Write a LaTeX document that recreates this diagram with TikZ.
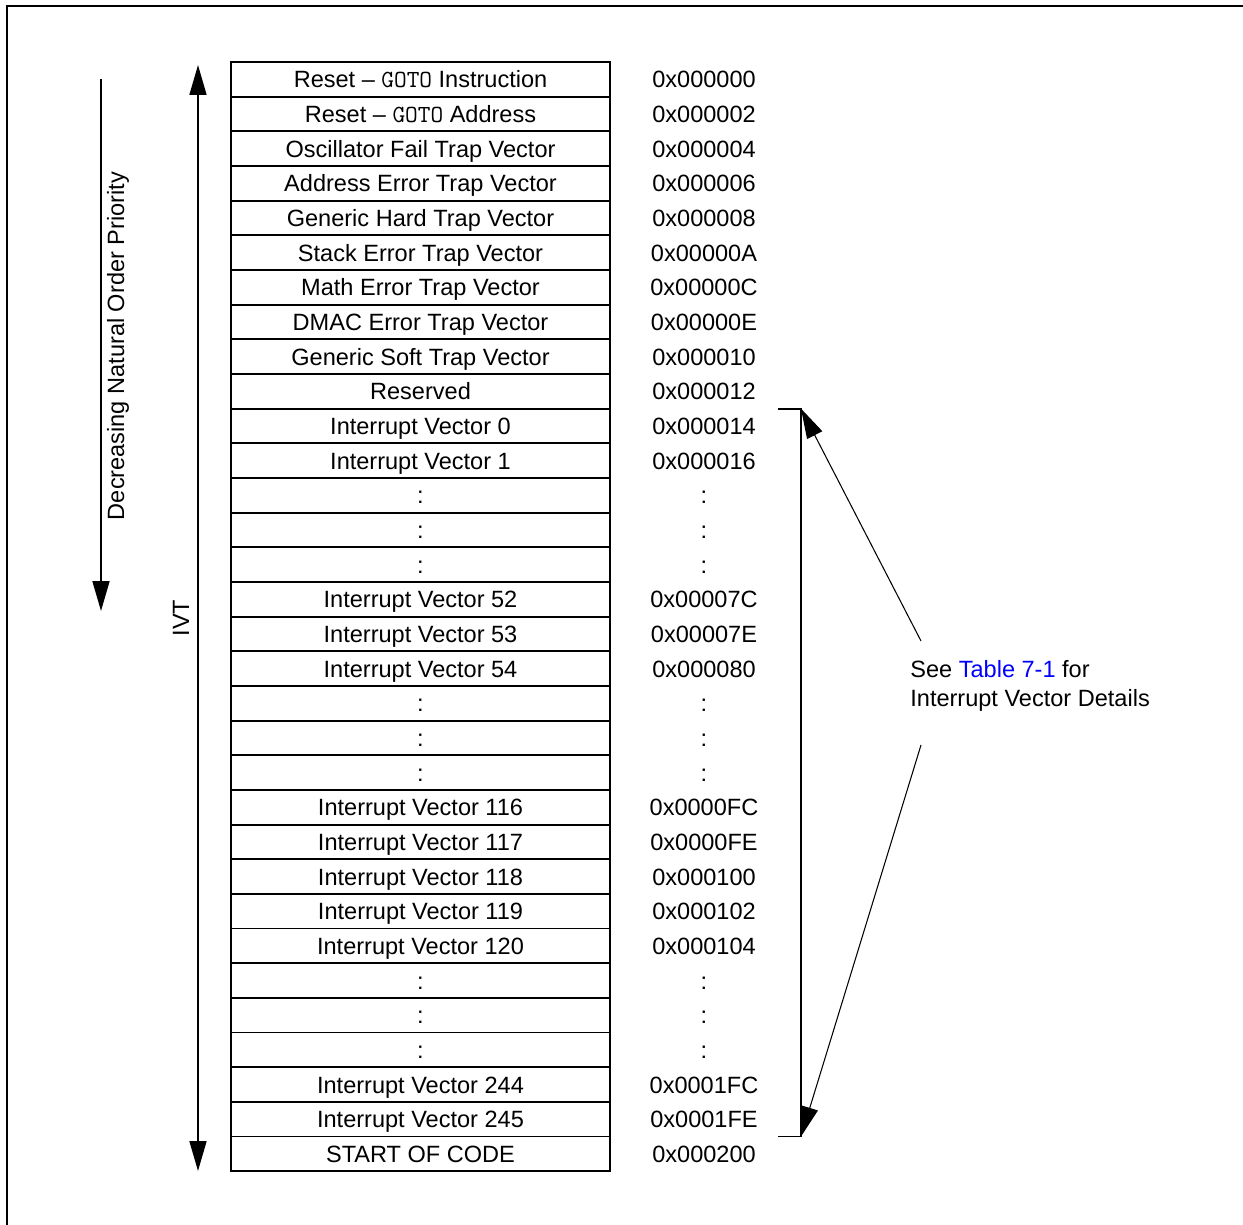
\documentclass[tikz,border=0pt]{standalone}
\usepackage{fontspec}
\setmainfont{Liberation Sans}
\usetikzlibrary{arrows.meta}
\newcommand{\gototxt}{{\ttfamily\fontsize{14}{14}\selectfont GOTO}}
\begin{document}
\begin{tikzpicture}[x=0.02cm, y=-0.02cm,
		every node/.style={font=\fontsize{13.4}{16.5}\selectfont, inner sep=0pt},
		cell/.style={draw, line width=1.1pt, minimum width=7.58cm, minimum height=0.693cm, text height=9.7pt, text depth=0pt},
		addr/.style={anchor=center, text height=9.7pt, text depth=0pt},
		bigtip/.style={-{Triangle[length=17pt, width=9.6pt]}},
		thick line/.style={line width=1.1pt}]
		\useasboundingbox (0, 0) rectangle (1243, 1224);
		\draw[thick line]	(7, 1300) |- (1300, 6);

		% memory map rows
		\foreach \lbl/\adr [count=\i from 0] in {
				Reset -- \gototxt{} Instruction/0x000000,
				Reset -- \gototxt{} Address/0x000002,
				Oscillator Fail Trap Vector/0x000004,
				Address Error Trap Vector/0x000006,
				Generic Hard Trap Vector/0x000008,
				Stack Error Trap Vector/0x00000A,
				Math Error Trap Vector/0x00000C,
				DMAC Error Trap Vector/0x00000E,
				Generic Soft Trap Vector/0x000010,
				Reserved/0x000012,
				Interrupt Vector 0/0x000014,
				Interrupt Vector 1/0x000016,
				:/:, :/:, :/:,
				Interrupt Vector 52/0x00007C,
				Interrupt Vector 53/0x00007E,
				Interrupt Vector 54/0x000080,
				:/:, :/:, :/:,
				Interrupt Vector 116/0x0000FC,
				Interrupt Vector 117/0x0000FE,
				Interrupt Vector 118/0x000100,
				Interrupt Vector 119/0x000102,
				Interrupt Vector 120/0x000104,
				:/:, :/:, :/:,
				Interrupt Vector 244/0x0001FC,
				Interrupt Vector 245/0x0001FE,
				START OF CODE/0x000200}
		{
			\node[cell]	(r\i) at (420.5, {62 + 34.66*(\i + 0.5)}) {\lbl};
			\node[addr]	(a\i) at (704, {62 + 34.66*(\i + 0.5)}) {\adr};
		}

		% priority and IVT arrows
		\coordinate (prioTop) at (101, 79);
		\coordinate (prioEnd) at (101, 611);
		\draw[bigtip, thick line]	(prioTop) to (prioEnd);
		\node[rotate=90]	(prio) at (118, 346) {Decreasing Natural Order Priority};

		\coordinate (ivtTop) at (198, 65);
		\coordinate (ivtEnd) at (198, 1171);
		\draw[{Triangle[length=17pt, width=9.6pt]}-{Triangle[length=17pt, width=9.6pt]}, thick line]	(ivtTop) to (ivtEnd);
		\node[rotate=90]	(ivt) at (181, 618) {IVT};

		% bracket over the interrupt vectors
		\coordinate (brTop) at (778, 408.6);
		\coordinate (brCornerTop) at (801, 408.6);
		\coordinate (brCornerBot) at (801, 1136.5);
		\coordinate (brBot) at (778, 1136.5);
		\draw[thick line]	(brTop) -- (brCornerTop) -- (brCornerBot) -- (brBot);

		% note
		\node[anchor=west, align=left]	(note) at (910, 686) {See \textcolor{blue}{Table 7-1} for\\Interrupt Vector Details};
		\coordinate (noteUp) at (921, 641);
		\coordinate (noteDown) at (921, 745);
		\draw[bigtip, line width=0.6pt]	(noteUp) to (brCornerTop);
		\draw[bigtip, line width=0.6pt]	(noteDown) to (brCornerBot);
	\end{tikzpicture}
\end{document}
